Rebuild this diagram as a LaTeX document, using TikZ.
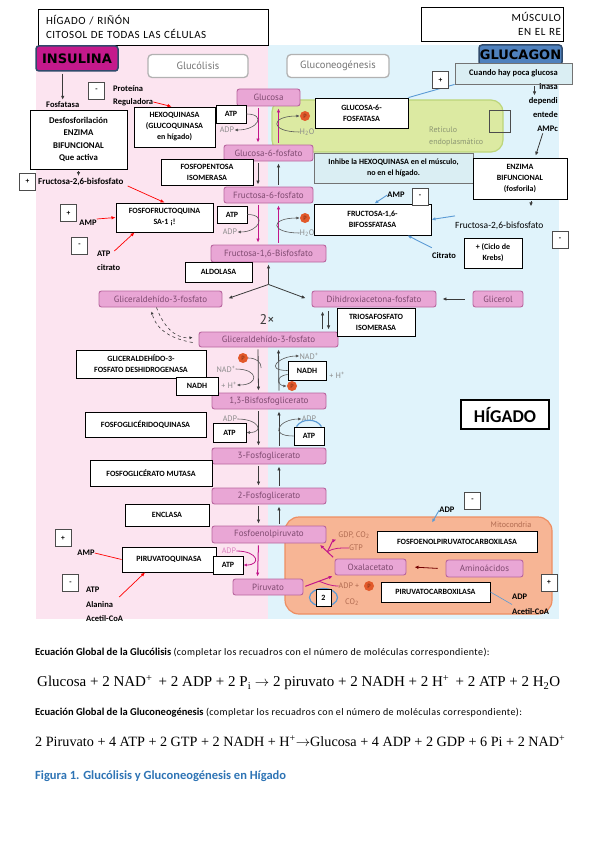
\documentclass[tikz,border=0pt]{standalone}
\usepackage{fontspec}
\setmainfont{Carlito}
\newfontfamily\metfont{PT Sans}
\newfontfamily\eqfont{Liberation Serif}
\newfontfamily\logofont{DejaVu Sans}
\newfontfamily\wideft[LetterSpace=4]{Carlito}
\newfontfamily\headft[LetterSpace=5]{Carlito}
\usepackage{tikz}
\usetikzlibrary{positioning,arrows.meta,calc}
\definecolor{pinkbg}{HTML}{FCE4F0}
\definecolor{bluebg}{HTML}{E0F3FB}
\definecolor{metfill}{HTML}{E9A6D5}
\definecolor{metline}{HTML}{B8659E}
\definecolor{mettext}{HTML}{7F4A70}
\definecolor{greytxt}{HTML}{8A8A8A}
\definecolor{magar}{HTML}{C2168A}
\definecolor{insul}{HTML}{C4198C}
\definecolor{gluc}{HTML}{4F81BD}
\definecolor{frame}{HTML}{2F4A6B}
\definecolor{erfill}{HTML}{DCEAA2}
\definecolor{erline}{HTML}{BCD67A}
\definecolor{ertxt}{HTML}{8C9673}
\definecolor{mitofill}{HTML}{F7B595}
\definecolor{mitoline}{HTML}{EE8E62}
\definecolor{mitotxt}{HTML}{B06A50}
\definecolor{phos}{HTML}{E2592A}
\definecolor{sig}{HTML}{5B9BD5}
\definecolor{infofill}{HTML}{DAEEF3}
\definecolor{capblue}{HTML}{2E74B5}
\definecolor{dark}{HTML}{3A3A3A}

\begin{document}
\begin{tikzpicture}[x=1pt, y=-1pt,
  font=\fontsize{7.5}{9}\selectfont,
  met/.style={draw=metline, fill=metfill, rounded corners=2.5pt, line width=0.9pt,
              text=mettext, inner sep=0pt, font=\metfont\fontsize{9}{10}\selectfont},
  enz/.style={draw=black, fill=white, line width=0.9pt, align=center, inner sep=1pt,
              font=\fontsize{8}{11}\selectfont\bfseries},
  info/.style={enz, fill=infofill, draw=black!55},
  sgn/.style={draw=black!70, fill=white, line width=0.8pt, minimum width=16pt,
              minimum height=17pt, inner sep=0pt, font=\fontsize{7.5}{8}\selectfont\bfseries},
  ttl/.style={draw=black!30, fill=white, rounded corners=4pt, line width=1.3pt,
              text=black!55, font=\metfont\fontsize{10.5}{12}\selectfont},
  hormone/.style={line width=1.5pt, draw=frame, rounded corners=3pt, inner sep=0pt,
              font=\logofont\bfseries\fontsize{13}{13}\selectfont},
  lbl/.style={inner sep=0pt, align=left, font=\fontsize{8.5}{14}\selectfont\bfseries},
  gtx/.style={inner sep=0pt, text=greytxt, font=\metfont\fontsize{8}{9}\selectfont},
  pho/.style={circle, fill=phos, inner sep=0pt, minimum size=10pt, text=phos!50!black,
              font=\metfont\fontsize{6}{6}\selectfont},
  dar/.style={-{Latex[length=4pt,width=3.5pt]}, draw=dark, line width=0.8pt,
              shorten <=2pt, shorten >=2pt},
  mar/.style={-{Latex[length=4pt,width=3.5pt]}, draw=magar, line width=1pt,
              shorten <=2pt, shorten >=2pt},
  gar/.style={-{Latex[length=3.5pt,width=3pt]}, draw=dark!85, line width=0.6pt},
  rar/.style={-{Latex[length=4pt,width=3.5pt]}, draw=red, line width=0.7pt},
  sar/.style={-{Latex[length=4pt,width=3.5pt]}, draw=sig, line width=0.9pt},
  dsh/.style={dashed, draw=dark, line width=0.6pt, -{Latex[length=3pt,width=3pt]}}
]
\fill[white] (0,0) rectangle (599,848);
\useasboundingbox (0,0) rectangle (599,848);

% compartments
\fill[pinkbg] (36,45) rectangle (268,619);
\fill[bluebg] (268,45) rectangle (559,619);
\draw[erline, fill=erfill, line width=1.2pt, rounded corners=12pt] (272,100) rectangle (503,152);
\draw[mitoline, fill=mitofill, line width=1.2pt, rounded corners=14pt] (285,517) rectangle (552,614);
\node[gtx, text=ertxt, align=left, anchor=west, font=\metfont\fontsize{8}{12}\selectfont] (er) at (429,136) {Retículo\\endoplasmático};
\node[gtx, text=mitotxt] (mito) at (511,525) {Mitocondria};

% headers
\node[draw, line width=0.9pt, minimum height=36pt, text width=214pt, inner xsep=8pt,
      align=left, font=\headft\fontsize{11}{14}\selectfont] (site) at (153,27) {HÍGADO / RIÑÓN\\CITOSOL DE TODAS LAS CÉLULAS};
\node[draw, line width=0.9pt, minimum height=34pt, text width=138pt, inner xsep=2pt,
      align=right, font=\headft\fontsize{11}{14}\selectfont] (musc) at (492,24) {MÚSCULO\\EN EL RE};
\node[hormone, fill=insul, minimum width=82pt, minimum height=25pt] (insulina) at (77,58.5) {INSULINA};
\node[hormone, fill=gluc, minimum width=83pt, minimum height=20pt] (glucagon) at (520.5,55) {GLUCAGON};
\node[ttl, minimum width=100pt, minimum height=23pt] (tglyc) at (198,66) {Glucólisis};
\node[ttl, minimum width=102pt, minimum height=23pt] (tgng) at (338,66) {Gluconeogénesis};

% metabolites
\node[met, minimum width=63pt, minimum height=17pt] (glc) at (268.5,97.5) {Glucosa};
\node[met, minimum width=89pt, minimum height=16pt] (g6p) at (268.5,153) {Glucosa-6-fosfato};
\node[met, minimum width=89pt, minimum height=16pt] (f6p) at (268.5,195) {Fructosa-6-fosfato};
\node[met, minimum width=115pt, minimum height=17pt] (f16) at (268.5,253.5) {Fructosa-1,6-Bisfosfato};
\node[met, minimum width=123pt, minimum height=16pt] (gapl) at (160.5,299) {Gliceraldehído-3-fosfato};
\node[met, minimum width=124pt, minimum height=16pt] (dhap) at (374,299) {Dihidroxiacetona-fosfato};
\node[met, minimum width=50pt, minimum height=16pt] (glyc) at (498,299) {Glicerol};
\node[met, minimum width=139pt, minimum height=15pt] (gap) at (268.5,339.5) {Gliceraldehído-3-fosfato};
\node[met, minimum width=114pt, minimum height=16pt] (bpg) at (269,401) {1,3-Bisfosfoglicerato};
\node[met, minimum width=114pt, minimum height=16pt] (pg3) at (269,456) {3-Fosfoglicerato};
\node[met, minimum width=114pt, minimum height=16pt] (pg2) at (269,496) {2-Fosfoglicerato};
\node[met, minimum width=114pt, minimum height=17pt] (pep) at (269,534.5) {Fosfoenolpiruvato};
\node[met, minimum width=70pt, minimum height=16pt] (pyr) at (268,587) {Piruvato};
\node[met, minimum width=71pt, minimum height=16pt] (oaa) at (370.5,567) {Oxalacetato};
\node[met, minimum width=77pt, minimum height=17pt] (amino) at (484.5,568.5) {Aminoácidos};

% small grey labels and phosphates
\node[gtx] (adp1) at (227,130) {ADP};
\node[gtx] (adp2) at (230,232) {ADP};
\node[pho] (p1) at (305,116) {P};
\node[gtx] (w1) at (307,132) {H\textsubscript{2}O};
\node[pho] (p2) at (305,218) {P};
\node[gtx] (w2) at (307,233) {H\textsubscript{2}O};
\node[pho] (p3) at (243,358) {P};
\node[gtx] (nad1) at (226,369) {NAD\textsuperscript{+}};
\node[gtx] (hp1) at (229,385) {+ H\textsuperscript{+}};
\node[gtx] (nad2) at (309,356) {NAD\textsuperscript{+}};
\node[gtx] (hp2) at (337,375) {+ H\textsuperscript{+}};
\node[pho] (p4) at (292,386) {P};
\node[gtx] (adp3) at (230,419) {ADP};
\node[gtx] (adp4) at (309,419) {ADP};
\node[gtx, text=magar!55] (adp5) at (229,551) {ADP};
\node[gtx, text=mitotxt] (gdp) at (354,535) {GDP, CO\textsubscript{2}};
\node[gtx, text=mitotxt] (gtp) at (356,548) {GTP};
\node[gtx, text=mitotxt] (adpp) at (349,586) {ADP +};
\node[pho] (p5) at (369,586) {P};
\node[gtx, text=mitotxt] (co2) at (352,602) {CO\textsubscript{2}};
\node[font=\metfont\fontsize{14}{14}\selectfont, text=dark] (twice) at (267,320) {2×};

% enzymes
\node[enz, minimum width=97pt, minimum height=59pt, font=\fontsize{8.8}{12.5}\selectfont\bfseries] (desf) at (78.5,139.5) {Desfosforilación\\ENZIMA\\BIFUNCIONAL\\Que activa};
\node[enz, minimum width=81pt, minimum height=40pt] (hk) at (174.5,127) {HEXOQUINASA\\(GLUCOQUINASA\\en hígado)};
\node[enz, minimum width=30pt, minimum height=18pt] (atp1) at (231,114) {ATP};
\node[enz, minimum width=92pt, minimum height=26pt] (fpi) at (207,172) {FOSFOPENTOSA\\ISOMERASA};
\node[enz, minimum width=97pt, minimum height=29pt] (pfk) at (164.5,217.5) {FOSFOFRUCTOQUINA\\SA-1 ¡!};
\node[enz, minimum width=30pt, minimum height=17pt] (atp2) at (232,214.5) {ATP};
\node[enz, minimum width=67pt, minimum height=20pt] (ald) at (218.5,272) {ALDOLASA};
\node[enz, minimum width=78pt, minimum height=28pt] (tpi) at (376,322) {TRIOSAFOSFATO\\ISOMERASA};
\node[enz, minimum width=130pt, minimum height=28pt] (gapdh) at (141,364) {GLICERALDEHÍDO-3-\\FOSFATO DESHIDROGENASA};
\node[enz, minimum width=42pt, minimum height=18pt] (nadh1) at (197,386) {NADH};
\node[enz, minimum width=38pt, minimum height=19pt] (nadh2) at (307,370.5) {NADH};
\node[enz, minimum width=121pt, minimum height=25pt] (pgk) at (145.5,424.5) {FOSFOGLICÉRIDOQUINASA};
\node[enz, minimum width=33pt, minimum height=19pt] (atp3) at (229.5,432.5) {ATP};
\node[enz, minimum width=30pt, minimum height=18pt] (atp4) at (309,436) {ATP};
\node[enz, minimum width=122pt, minimum height=26pt] (pgm) at (151,473) {FOSFOGLICÉRATO MUTASA};
\node[enz, minimum width=84pt, minimum height=22pt] (eno) at (167,515) {ENCLASA};
\node[enz, minimum width=94pt, minimum height=25pt] (pk) at (169,559.5) {PIRUVATOQUINASA};
\node[enz, minimum width=30pt, minimum height=18pt] (atp5) at (228,565) {ATP};
\node[enz, minimum width=93pt, minimum height=30pt] (g6pase) at (361.5,113) {GLUCOSA-6-\\FOSFATASA};
\node[info, minimum width=117pt, minimum height=21pt, font=\fontsize{8.5}{11}\selectfont\bfseries] (cuando) at (513.5,73.5) {Cuando hay poca glucosa};
\node[info, minimum width=159pt, minimum height=30pt] (inhibe) at (393.5,168) {Inhibe la HEXOQUINASA en el músculo,\\no en el hígado.};
\node[enz, minimum width=94pt, minimum height=41pt] (bifun) at (520,178.5) {ENZIMA\\BIFUNCIONAL\\(fosforila)};
\node[enz, minimum width=117pt, minimum height=31pt] (fbpase) at (372.5,219.5) {FRUCTOSA-1,6-\\BIFOSSFATASA};
\node[enz, minimum width=58pt, minimum height=30pt] (krebs) at (493,253) {+ (Ciclo de\\Krebs)};
\node[enz, minimum width=160pt, minimum height=21pt] (pepck) at (457,541.5) {FOSFOENOLPIRUVATOCARBOXILASA};
\node[enz, minimum width=109pt, minimum height=20pt] (pc) at (435.5,592) {PIRUVATOCARBOXILASA};
\draw[sig, line width=1.2pt] (323.5,597.5) ellipse (14pt and 9pt);
\node[enz, minimum width=15pt, minimum height=17pt] (two) at (323.5,597.5) {2};
\node[draw, line width=1.6pt, fill=white, minimum width=88pt, minimum height=29pt, inner sep=0pt,
      font=\bfseries\fontsize{18}{18}\selectfont] (liver) at (505,414.5) {HÍGADO};
\node[draw=black!70, line width=0.8pt, minimum width=21pt, minimum height=22pt] (blank) at (499.5,121) {};

% regulators
\node[lbl, anchor=west] (fosf) at (46,105) {Fosfatasa};
\node[lbl, anchor=west] (prot) at (113,89) {Proteína};
\node[lbl, anchor=west] (reg) at (113,102) {Reguladora};
\node[lbl, anchor=west, font=\fontsize{9}{10}\selectfont\bfseries] (f26l) at (38,182) {Fructosa-2,6-bisfosfato};
\node[lbl] (amp1) at (88,223) {AMP};
\node[lbl, anchor=north west] (atpc) at (97,251) {ATP\\citrato};
\node[lbl] (amp2) at (86,553) {AMP};
\node[lbl, anchor=north west, font=\fontsize{8.5}{14.5}\selectfont\bfseries] (ataa) at (86,587) {ATP\\Alanina\\Acetil-CoA};
\node[lbl] (adpm) at (447,510) {ADP};
\node[lbl, anchor=north west, font=\fontsize{8.5}{15}\selectfont\bfseries] (adpr) at (512,594) {ADP\\Acetil-CoA};
\node[lbl] (amp3) at (396,195) {AMP};
\node[anchor=west, inner sep=0pt, font=\fontsize{9.5}{10}\selectfont] (f26r) at (455,226) {Fructosa-2,6-bisfosfato};
\node[lbl] (citr) at (444,256) {Citrato};
\node[lbl, anchor=north east, align=right] (pka) at (558,83) {inasa\\dependi\\entede\\AMPc};

\node[sgn] (s1) at (96.5,90.5) {-};
\node[sgn] (s2) at (27.5,181.5) {+};
\node[sgn] (s3) at (68.5,213) {+};
\node[sgn] (s4) at (79.5,245.5) {-};
\node[sgn] (s6) at (420,196.5) {-};
\node[sgn] (s7) at (560,239.5) {-};
\node[sgn] (s8) at (63,538) {+};
\node[sgn] (s9) at (70.5,583) {-};
\node[sgn] (s10) at (472.5,500.5) {-};
\node[sgn] (s11) at (549,582.5) {+};

% regulation arrows
\draw[dar] (insulina.south -| fosf.north) -- (fosf.north);
\draw[dar] (desf.south) -- (desf.south |- f26l.north);
\draw[rar] (reg.east) -- ([xshift=-3pt]hk.north);
\draw[rar] ([xshift=4pt,yshift=-4pt]f26l.east) -- (pfk.north);
\draw[rar] ([yshift=4pt]amp1.east) -- (pfk.west);
\draw[rar] ([xshift=-6pt]atpc.north east) -- ([xshift=-30pt]pfk.south);
\draw[red, line width=0.7pt] (amp2.east) -- (pk.west);
\draw[rar] ([xshift=-4pt,yshift=-10pt]ataa.north east) -- ([xshift=-24pt]pk.south);
\draw[sig, line width=0.9pt] (g6pase.north east) -- (cuando.south west);
\node[sgn] (s5) at (440.5,80) {+};
\draw[sar] ([yshift=6pt]f26r.north west) -- (fbpase.east);
\draw[sar] (amp3.west) -- ([xshift=2pt]fbpase.north);
\draw[sar] ([yshift=5pt]citr.north west) -- ([xshift=35pt]fbpase.south);
\draw[sar] (adpm.west) -- ([xshift=-25pt,yshift=8pt]pepck.north);
\draw[sig, line width=0.6pt] (pc.east) -- (adpr.west);
\draw[dar] ([xshift=21pt]cuando.south) -- ++(0,13);
\draw[dar] (pka.south) -- ([xshift=15pt]bifun.north);
\draw[dar] ([xshift=11pt]bifun.south) -- ++(0,9);

% pathway
\draw[mar] ([xshift=-10.5pt]glc.south) -- ([xshift=-10.5pt]g6p.north);
\draw[mar] ([xshift=10pt]g6p.north) -- ([xshift=10pt]glc.south);
\draw[gar] (atp1.east) .. controls +(20,0) and +(24,0) .. (adp1.east);
\draw[gar] (w1.west) .. controls +(-30,0) and +(-30,0) .. (p1.west);
\draw[dar] ([xshift=-10.5pt]g6p.south) -- ([xshift=-10.5pt]f6p.north);
\draw[dar] ([xshift=10pt]f6p.north) -- ([xshift=10pt]g6p.south);
\draw[mar] ([xshift=-10.5pt]f6p.south) -- ([xshift=-10.5pt]f16.north);
\draw[mar] ([xshift=10pt]f16.north) -- ([xshift=10pt]f6p.south);
\draw[gar] (atp2.east) .. controls +(20,0) and +(22,0) .. (adp2.east);
\draw[gar] (w2.west) .. controls +(-30,0) and +(-30,0) .. (p2.west);

\coordinate (fork) at ([yshift=-22pt]f16.south);
\draw[dar, shorten <=0pt] (fork) -- (f16.south);
\draw[dar, shorten <=0pt] (fork) -- ([xshift=4pt]gapl.east);
\draw[dar, shorten <=0pt] (fork) -- ([xshift=-4pt]dhap.west);
\draw[dar] ([xshift=-6pt]glyc.west) -- ([xshift=4pt]dhap.east);
\draw[dar] ([xshift=11pt,yshift=-24pt]dhap.south west) -- ([xshift=11pt,yshift=-2pt]dhap.south west);
\draw[dar] ([xshift=17pt,yshift=-2pt]dhap.south west) -- ([xshift=17pt,yshift=-24pt]dhap.south west);
\draw[dsh] ([xshift=-4pt]gapl.south) to[out=-70, in=185] ([xshift=-6pt,yshift=2pt]gap.west);
\draw[dsh] ([xshift=-6pt,yshift=-3pt]gap.west) to[out=170, in=-75] ([xshift=-9pt,yshift=-4pt]gapl.south);

\draw[dar] ([xshift=-10.5pt]gap.south) -- ([xshift=-10.5pt]bpg.north);
\draw[dar] ([xshift=10pt]bpg.north) -- ([xshift=10pt]gap.south);
\draw[gar] (nad1.east) .. controls +(24,0) and +(22,0) .. (hp1.east);
\draw[dark!85, line width=0.6pt] (p3.east) .. controls +(8,0) and +(0,-6) .. ++(13,10);
\draw[gar] (nadh2.west) .. controls +(-24,0) and +(-20,0) .. (nad2.west);
\draw[gar] ([yshift=-4pt]nadh2.west) .. controls +(-14,2) and +(-8,0) .. (p4.west);

\draw[dar] ([xshift=-10.5pt]bpg.south) -- ([xshift=-10.5pt]pg3.north);
\draw[dar] ([xshift=10pt]pg3.north) -- ([xshift=10pt]bpg.south);
\draw[gar] (adp3.east) .. controls +(22,0) and +(18,0) .. (atp3.east);
\draw[gar] (atp4.west) .. controls +(-26,0) and +(-22,0) .. (adp4.west);
\draw[sig, line width=1.2pt] ([xshift=3pt]atp4.north west) to[bend left=60] ([xshift=-3pt]atp4.north east);

\draw[dar] ([xshift=-10.5pt]pg3.south) -- ([xshift=-10.5pt]pg2.north);
\draw[dar] ([xshift=10pt]pg2.north) -- ([xshift=10pt]pg3.south);
\draw[dar] ([xshift=-10.5pt]pg2.south) -- ([xshift=-10.5pt]pep.north);
\draw[dar] ([xshift=10pt]pep.north) -- ([xshift=10pt]pg2.south);
\draw[mar] ([xshift=-10.5pt]pep.south) -- ([xshift=-10.5pt]pyr.north);
\draw[magar, line width=0.8pt, -{Latex[length=3.5pt,width=3pt]}] (adp5.east) .. controls +(22,0) and +(18,0) .. (atp5.east);

% mitochondrion
\coordinate (carb) at ($(pyr.east)!0.5!(oaa.south west)$);
\draw[mar] (pyr.east) -- (oaa.south west);
\draw[magar, line width=0.8pt] (carb) to[out=-20, in=180] (adpp.west);
\coordinate (decarb) at ($(oaa.north west)!0.45!([xshift=-8pt]pep.south east)$);
\draw[mar] (oaa.north west) -- ([xshift=-8pt]pep.south east);
\draw[mar, shorten <=0pt] (decarb) to[out=60, in=200] (gdp.south west);
\draw[magar, line width=0.8pt] (gtp.west) to[out=180, in=30] (decarb);
\draw[dar, draw=red!45!black] ([xshift=-6pt]amino.west) -- ([xshift=6pt]oaa.east);

% equations
\node[anchor=west, inner sep=0pt, font=\fontsize{10.5}{11}\selectfont\bfseries] (eqh1) at (35,653)
  {Ecuación Global de la Glucólisis {\wideft\mdseries\fontsize{10}{11}\selectfont (completar los recuadros con el número de moléculas correspondiente):}};
\node[anchor=west, inner sep=0pt, font=\eqfont\fontsize{15}{16}\selectfont] (eq1) at (37,683)
  {Glucosa + 2 NAD\textsuperscript{+} \,+ 2 ADP + 2 P\textsubscript{i} $\rightarrow$ 2 piruvato + 2 NADH + 2 H\textsuperscript{+} \,+ 2 ATP + 2 H\textsubscript{2}O};
\node[anchor=west, inner sep=0pt, font=\fontsize{10.5}{11}\selectfont\bfseries] (eqh2) at (35,713)
  {Ecuación Global de la Gluconeogénesis {\wideft\mdseries\fontsize{10}{11}\selectfont (completar los recuadros con el número de moléculas correspondiente):}};
\node[anchor=west, inner sep=0pt, font=\eqfont\fontsize{14.2}{15}\selectfont] (eq2) at (35,741)
  {2 Piruvato + 4 ATP + 2 GTP + 2 NADH + H\textsuperscript{+}$\rightarrow$Glucosa + 4 ADP + 2 GDP + 6 Pi + 2 NAD\textsuperscript{+}};
\node[anchor=west, inner sep=0pt, text=capblue, font=\fontsize{12.5}{13}\selectfont\bfseries] (cap) at (35,776)
  {Figura 1. Glucólisis y Gluconeogénesis en Hígado};
\end{tikzpicture}
\end{document}
